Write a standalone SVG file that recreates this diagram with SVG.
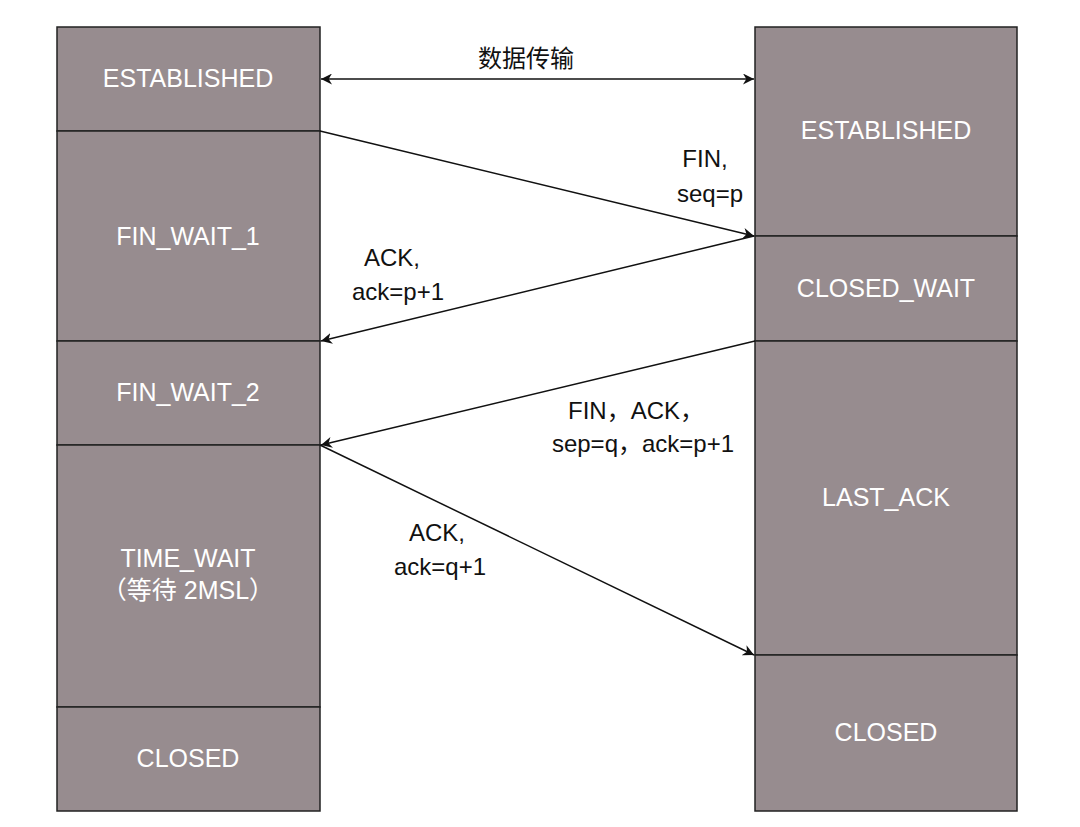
<svg xmlns="http://www.w3.org/2000/svg" width="1080" height="827" viewBox="0 0 1080 827">
<style>
.n{fill:#978c8f;stroke:#222;stroke-width:1.5}
.t{fill:#fff;font-family:"Liberation Sans","Noto Sans CJK SC",sans-serif;font-size:25px;text-anchor:middle}
.l{fill:#111;font-family:"Liberation Sans","Noto Sans CJK SC",sans-serif;font-size:24px;text-anchor:middle}
.c{stroke:#111;stroke-width:1.5;fill:none}
</style>
<defs><marker id="a" viewBox="0 0 10 10" refX="10" refY="5" markerWidth="11" markerHeight="11" markerUnits="userSpaceOnUse" orient="auto-start-reverse"><path d="M0,0 L10,5 L0,10 L3,5 Z" fill="#111"/></marker></defs>
<rect width="1080" height="827" fill="#fff"/>
<g id="l1"><rect class="n" x="57" y="27" width="263" height="104"/><text class="t" x="188" y="87">ESTABLISHED</text></g>
<g id="l2"><rect class="n" x="57" y="131" width="263" height="210"/><text class="t" x="188" y="245">FIN_WAIT_1</text></g>
<g id="l3"><rect class="n" x="57" y="341" width="263" height="104"/><text class="t" x="188" y="401">FIN_WAIT_2</text></g>
<g id="l4"><rect class="n" x="57" y="445" width="263" height="262"/><text class="t" x="188" y="567">TIME_WAIT</text><text class="t" x="188" y="599">（等待 2MSL）</text></g>
<g id="l5"><rect class="n" x="57" y="707" width="263" height="104"/><text class="t" x="188" y="767">CLOSED</text></g>
<g id="r1"><rect class="n" x="755" y="27" width="262" height="209"/><text class="t" x="886" y="139">ESTABLISHED</text></g>
<g id="r2"><rect class="n" x="755" y="236" width="262" height="105"/><text class="t" x="886" y="297">CLOSED_WAIT</text></g>
<g id="r3"><rect class="n" x="755" y="341" width="262" height="314"/><text class="t" x="886" y="506">LAST_ACK</text></g>
<g id="r4"><rect class="n" x="755" y="655" width="262" height="156"/><text class="t" x="886" y="741">CLOSED</text></g>
<g id="connectors">
<line class="c" x1="321" y1="79" x2="754" y2="79" marker-start="url(#a)" marker-end="url(#a)"/>
<line class="c" x1="320" y1="131" x2="754" y2="236" marker-end="url(#a)"/>
<line class="c" x1="754" y1="236" x2="321" y2="341" marker-end="url(#a)"/>
<line class="c" x1="755" y1="341" x2="321" y2="445" marker-end="url(#a)"/>
<line class="c" x1="320" y1="445" x2="754" y2="655" marker-end="url(#a)"/>
</g>
<text class="l" x="526" y="67">数据传输</text>
<text class="l" x="705" y="167">FIN,</text><text class="l" x="710" y="202">seq=p</text>
<text class="l" x="392" y="266">ACK,</text><text class="l" x="398" y="300">ack=p+1</text>
<text class="l" x="636" y="419">FIN，ACK，</text><text class="l" x="643" y="452">sep=q，ack=p+1</text>
<text class="l" x="437" y="541">ACK,</text><text class="l" x="440" y="575">ack=q+1</text>
</svg>
